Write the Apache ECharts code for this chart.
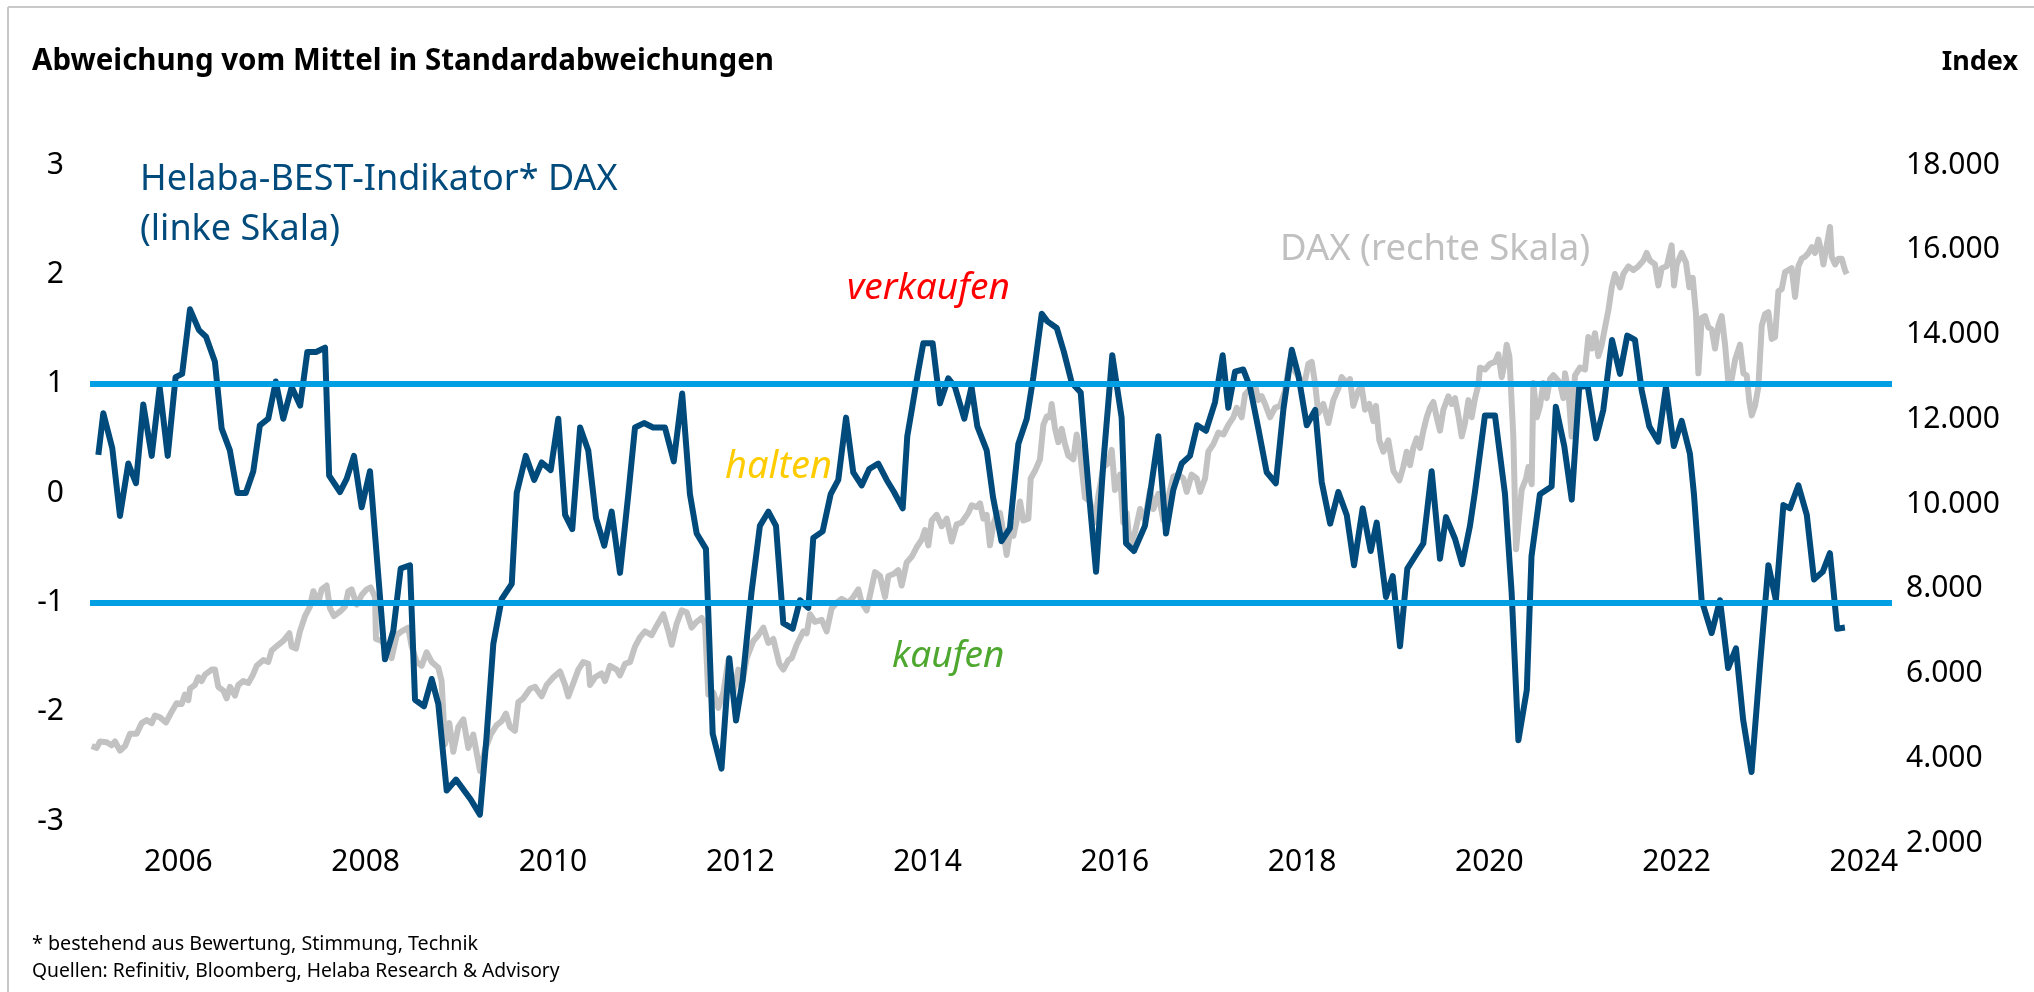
<!DOCTYPE html>
<html>
<head>
<meta charset="utf-8">
<script src="https://cdn.jsdelivr.net/npm/echarts@6/dist/echarts.min.js"></script>
<style>
html,body{margin:0;padding:0;background:#fff;}
#c{width:2034px;height:992px;}
</style>
</head>
<body>
<div id="c"></div>
<script>
// ---------- DATA ----------
const yearTicks = [2006, 2008, 2010, 2012, 2014, 2016, 2018, 2020, 2022, 2024];
const leftTicks = [-3, -2, -1, 0, 1, 2, 3];
const thresholds = [1, -1];

const bestYears = [2005.145,2005.198,2005.294,2005.376,2005.465,2005.547,2005.625,2005.715,2005.80,2005.886,2005.97,2006.04,2006.124,2006.22,2006.295,2006.39,2006.462,2006.55,2006.63,2006.72,2006.80,2006.87,2006.96,2007.04,2007.12,2007.21,2007.30,2007.377,2007.47,2007.566,2007.61,2007.726,2007.797,2007.875,2007.957,2008.046,2008.206,2008.295,2008.374,2008.473,2008.527,2008.623,2008.705,2008.776,2008.865,2008.965,2009.12,2009.22,2009.29,2009.363,2009.452,2009.56,2009.613,2009.71,2009.80,2009.88,2009.976,2010.057,2010.13,2010.206,2010.29,2010.377,2010.46,2010.548,2010.627,2010.716,2010.805,2010.876,2010.972,2011.07,2011.196,2011.29,2011.38,2011.463,2011.535,2011.634,2011.706,2011.80,2011.883,2011.955,2012.026,2012.12,2012.21,2012.30,2012.382,2012.46,2012.56,2012.638,2012.727,2012.78,2012.88,2012.966,2013.047,2013.13,2013.207,2013.297,2013.378,2013.474,2013.564,2013.642,2013.735,2013.784,2013.83,2013.90,2013.955,2014.055,2014.133,2014.222,2014.293,2014.393,2014.47,2014.532,2014.632,2014.70,2014.79,2014.88,2014.97,2015.06,2015.13,2015.22,2015.28,2015.38,2015.457,2015.54,2015.636,2015.68,2015.735,2015.80,2015.877,2015.973,2016.073,2016.12,2016.205,2016.322,2016.383,2016.465,2016.547,2016.625,2016.714,2016.803,2016.88,2016.974,2017.07,2017.152,2017.212,2017.284,2017.372,2017.444,2017.533,2017.622,2017.72,2017.80,2017.89,2017.96,2018.05,2018.14,2018.21,2018.30,2018.387,2018.477,2018.555,2018.647,2018.733,2018.797,2018.896,2018.968,2019.046,2019.124,2019.206,2019.295,2019.384,2019.473,2019.537,2019.634,2019.71,2019.793,2019.846,2019.953,2020.06,2020.167,2020.238,2020.31,2020.40,2020.45,2020.54,2020.665,2020.71,2020.80,2020.88,2020.96,2021.05,2021.14,2021.217,2021.31,2021.395,2021.473,2021.555,2021.627,2021.708,2021.804,2021.886,2021.97,2022.054,2022.142,2022.185,2022.267,2022.374,2022.463,2022.55,2022.634,2022.71,2022.80,2022.89,2022.98,2023.06,2023.14,2023.21,2023.30,2023.39,2023.467,2023.56,2023.637,2023.715,2023.797];
const bestValues = [0.35,0.73,0.41,-0.21,0.27,0.09,0.81,0.34,0.97,0.34,1.06,1.09,1.68,1.49,1.43,1.20,0.59,0.39,0.0,0.0,0.20,0.62,0.68,1.02,0.68,0.97,0.80,1.29,1.29,1.33,0.16,0.01,0.13,0.34,-0.13,0.20,-1.52,-1.26,-0.69,-0.66,-1.89,-1.95,-1.70,-1.93,-2.72,-2.62,-2.80,-2.94,-2.24,-1.38,-0.97,-0.83,0.0,0.34,0.12,0.28,0.21,0.68,-0.20,-0.33,0.60,0.39,-0.23,-0.48,-0.17,-0.73,-0.01,0.60,0.64,0.60,0.60,0.29,0.91,-0.01,-0.37,-0.51,-2.20,-2.52,-1.51,-2.08,-1.71,-0.91,-0.30,-0.17,-0.30,-1.19,-1.24,-0.98,-1.05,-0.41,-0.35,-0.01,0.12,0.69,0.19,0.07,0.22,0.27,0.12,0.01,-0.14,0.52,0.75,1.11,1.37,1.37,0.82,1.05,0.97,0.68,0.97,0.61,0.39,-0.04,-0.44,-0.32,0.45,0.68,1.06,1.64,1.57,1.51,1.29,1.01,0.92,0.45,-0.11,-0.72,0.27,1.26,0.69,-0.46,-0.53,-0.30,0.03,0.52,-0.37,0.03,0.27,0.34,0.62,0.57,0.83,1.26,0.78,1.11,1.13,0.97,0.59,0.19,0.09,0.76,1.31,1.08,0.62,0.76,0.10,-0.28,0.01,-0.20,-0.66,-0.14,-0.53,-0.27,-0.95,-0.76,-1.40,-0.69,-0.58,-0.46,0.20,-0.60,-0.22,-0.42,-0.65,-0.30,0.01,0.71,0.71,-0.01,-0.91,-2.26,-1.80,-0.58,-0.01,0.06,0.79,0.43,-0.06,0.97,0.98,0.50,0.76,1.40,1.09,1.44,1.40,0.94,0.61,0.47,0.97,0.43,0.66,0.36,-0.01,-0.98,-1.28,-0.98,-1.60,-1.42,-2.07,-2.55,-1.58,-0.66,-0.98,-0.11,-0.14,0.07,-0.20,-0.79,-0.72,-0.55,-1.24,-1.23];

const daxYears = [2005.074,2005.127,2005.163,2005.234,2005.287,2005.323,2005.376,2005.43,2005.483,2005.554,2005.608,2005.661,2005.715,2005.75,2005.803,2005.868,2005.928,2005.981,2006.035,2006.07,2006.106,2006.124,2006.177,2006.213,2006.248,2006.284,2006.355,2006.391,2006.426,2006.48,2006.515,2006.551,2006.604,2006.64,2006.693,2006.747,2006.793,2006.836,2006.907,2006.96,2006.996,2007.067,2007.12,2007.185,2007.21,2007.256,2007.298,2007.352,2007.405,2007.441,2007.494,2007.53,2007.583,2007.619,2007.661,2007.726,2007.779,2007.815,2007.85,2007.904,2007.957,2008.01,2008.053,2008.1,2008.11,2008.171,2008.224,2008.277,2008.331,2008.384,2008.455,2008.491,2008.544,2008.598,2008.651,2008.705,2008.776,2008.811,2008.847,2008.893,2008.936,2008.989,2009.043,2009.096,2009.149,2009.221,2009.274,2009.335,2009.399,2009.452,2009.498,2009.541,2009.594,2009.63,2009.683,2009.755,
2009.808,2009.879,2009.933,2010.004,2010.075,2010.129,2010.164,2010.218,2010.271,2010.324,2010.378,2010.396,2010.449,2010.52,2010.556,2010.609,2010.68,2010.716,2010.769,2010.823,2010.876,2010.93,2010.983,2011.054,2011.108,2011.179,2011.232,2011.268,2011.321,2011.375,2011.428,2011.481,2011.535,2011.588,2011.624,2011.659,2011.713,2011.766,2011.82,2011.873,2011.926,2011.98,2012.015,2012.069,2012.14,2012.193,2012.247,2012.3,2012.353,2012.418,2012.46,2012.514,2012.549,2012.603,2012.674,2012.71,2012.745,2012.798,2012.87,2012.923,2012.976,2013.03,2013.083,2013.154,2013.208,2013.261,2013.297,2013.35,2013.404,2013.439,2013.493,2013.546,2013.582,2013.635,2013.688,2013.724,2013.777,2013.831,2013.884,2013.938,2013.973,2014.009,2014.045,2014.098,2014.151,2014.205,2014.258,2014.311,2014.365,2014.436,
2014.472,2014.525,2014.561,2014.596,2014.632,2014.667,2014.703,2014.739,2014.774,2014.81,2014.845,2014.881,2014.917,2014.952,2014.988,2015.023,2015.077,2015.102,2015.148,2015.201,2015.237,2015.273,2015.308,2015.326,2015.362,2015.397,2015.433,2015.468,2015.504,2015.557,2015.593,2015.629,2015.682,2015.735,2015.789,2015.824,2015.878,2015.931,2015.967,2016.002,2016.056,2016.091,2016.127,2016.163,2016.216,2016.27,2016.323,2016.376,2016.412,2016.465,2016.519,2016.572,2016.625,2016.679,2016.732,2016.768,2016.821,2016.875,2016.91,2016.964,2016.999,2017.053,2017.106,2017.16,2017.213,2017.266,2017.302,2017.355,2017.391,2017.444,2017.498,2017.533,2017.569,2017.605,2017.658,2017.711,2017.765,2017.818,2017.871,2017.925,2017.978,2018.031,2018.067,2018.103,2018.138,2018.174,2018.227,2018.281,2018.334,2018.387,2018.423,2018.476,2018.512,2018.547,2018.601,2018.636,2018.672,2018.718,2018.761,2018.789,2018.825,2018.868,2018.921,2018.975,2019.039,2019.081,
2019.117,2019.153,2019.188,2019.224,2019.26,2019.295,2019.331,2019.366,2019.402,2019.438,2019.473,2019.509,2019.562,2019.598,2019.633,2019.669,2019.705,2019.74,2019.776,2019.811,2019.847,2019.883,2019.90,2019.954,2020.007,2020.061,2020.096,2020.132,2020.157,2020.185,2020.214,2020.256,2020.285,2020.31,2020.345,2020.392,2020.417,2020.452,2020.47,2020.506,2020.541,2020.577,2020.612,2020.648,2020.684,2020.719,2020.755,2020.79,2020.808,2020.844,2020.879,2020.897,2020.915,2020.968,2021.022,2021.057,2021.093,2021.128,2021.164,2021.2,2021.235,2021.271,2021.307,2021.342,2021.396,2021.431,2021.485,2021.538,2021.591,2021.645,2021.68,2021.716,2021.769,2021.805,2021.841,2021.894,2021.947,2021.972,2022.001,2022.054,2022.1,2022.136,2022.172,2022.207,2022.232,2022.268,2022.303,2022.339,2022.375,2022.41,2022.446,2022.481,2022.517,2022.553,2022.588,2022.624,2022.677,2022.713,2022.748,2022.777,2022.802,2022.837,2022.873,2022.909,2022.944,2022.98,2023.015,2023.051,2023.087,2023.122,2023.158,2023.193,2023.229,2023.265,2023.3,2023.336,2023.371,2023.407,2023.443,2023.478,2023.514,2023.549,2023.567,2023.603,2023.638,2023.656,2023.692,2023.727,2023.763,2023.798,2023.816];
const daxValues = [4288,4243,4396,4378,4306,4396,4179,4288,4576,4576,4829,4901,4829,5009,4964,4847,5099,5298,5280,5505,5370,5641,5731,5911,5821,5974,6092,6092,5686,5595,5415,5686,5479,5731,5821,5776,5956,6182,6317,6272,6543,6678,6768,6949,6633,6588,6994,7355,7580,7941,7671,7986,8076,7535,7355,7463,7580,7941,7986,7625,7851,7986,8031,7806,6814,6768,6588,6362,6903,6994,7084,6633,6272,6182,6498,6272,6136,5821,4333,4829,4153,4738,4919,4243,4558,3701,4197,4558,4784,4874,5054,4738,4648,5325,5415,5641,
5686,5460,5731,5911,6049,5731,5460,5776,6092,6272,6227,5731,5911,6002,5821,6182,6092,5956,6227,6272,6633,6858,6994,6904,7129,7400,6994,6678,7174,7490,7445,7084,7219,7310,7174,5505,5551,5190,5551,6317,5551,6092,5686,6362,6768,6904,7084,6723,6814,6227,6092,6317,6362,6678,6994,6949,7400,7219,7265,6994,7535,7671,7761,7671,7806,7986,7671,7490,8031,8392,8302,7806,8302,8347,8437,8076,8618,8753,8979,9159,9385,9024,9610,9745,9475,9655,9114,9520,9565,9791,
9971,9926,10016,9655,9745,9024,9520,9745,9790,9339,8798,9339,9249,9610,10061,9610,9655,10602,10783,11053,11865,12064,12046,12361,11775,11459,11775,11414,11143,11053,11640,11234,10151,10061,9565,10196,10873,10963,11279,10332,10693,9565,9790,8979,9339,9881,9610,10332,9881,10242,9610,10151,10647,10693,10602,10287,10693,10602,10287,10602,11234,11414,11685,11640,11865,12046,12271,12046,12587,12722,12812,12452,12542,12361,12046,12271,12316,12677,13399,13128,12948,12903,13309,13354,12858,12136,12361,11910,12452,12722,12993,12858,12948,12316,12677,12767,12226,12361,11955,12316,11504,11234,11504,10783,10557,10873,
11234,10918,11324,11550,11324,11730,12046,12271,12407,12046,11730,12226,12542,12361,12497,12091,11595,11910,12452,12046,12497,12812,13218,13173,13309,13354,13534,12993,13264,13760,13489,11595,8934,9520,10332,10602,10873,10467,12858,12046,12316,12858,12497,12948,13038,12948,12858,12497,13083,12677,11595,12497,13038,13218,13173,13940,13669,14030,13489,13760,14166,14572,15113,15429,15113,15429,15609,15519,15609,15744,15925,15744,15654,15158,15564,15609,16105,15158,15654,15925,15699,15113,15338,14481,13083,14391,14436,14166,14121,13669,14211,14436,13760,12858,12948,13399,13760,13083,13038,12407,12091,12316,12767,14211,14481,14526,13895,13940,15023,15068,15474,15519,15564,14887,15609,15789,15835,15925,16060,15925,16240,15925,15654,16105,16540,15835,15654,15789,15789,15519,15429];

// ---------- CHART ----------
const FONT = '"Noto Sans", "Open Sans", sans-serif';
const zip = (a, b) => a.map((x, i) => [x, b[i]]);
const thousands = v => { const s = String(v); return s.length > 3 ? s.slice(0, -3) + '.' + s.slice(-3) : s; };

const chart = echarts.init(document.getElementById('c'), null, { renderer: 'canvas' });

const txt = (text, x, y, font, fill, align) => ({
  type: 'text', silent: true,
  style: { text, x, y, font, fill, textAlign: align || 'left', textVerticalAlign: 'middle' }
});

chart.setOption({
  animation: false,
  backgroundColor: '#ffffff',
  grid: { left: 90, right: 142, top: 165, bottom: 149, containLabel: false },
  xAxis: {
    type: 'value', min: 2005.056, max: 2024.30,
    axisLine: { show: false }, axisTick: { show: false }, splitLine: { show: false },
    axisLabel: {
      customValues: yearTicks, formatter: v => String(v),
      fontSize: 30, color: '#000', fontFamily: FONT, margin: 4
    }
  },
  yAxis: [
    {
      type: 'value', min: -3.2, max: 3, position: 'left',
      axisLine: { show: false }, axisTick: { show: false }, splitLine: { show: false },
      axisLabel: {
        customValues: leftTicks, formatter: v => String(v),
        fontSize: 30, color: '#000', fontFamily: FONT, margin: 26
      }
    },
    {
      type: 'value', min: 2000, max: 18000, interval: 2000, position: 'right',
      axisLine: { show: false }, axisTick: { show: false }, splitLine: { show: false },
      axisLabel: { formatter: thousands, fontSize: 30, color: '#000', fontFamily: FONT, margin: 14 }
    }
  ],
  series: [
    {
      name: 'DAX', type: 'line', yAxisIndex: 1, z: 1, silent: true,
      data: zip(daxYears, daxValues), showSymbol: false, symbol: 'none',
      lineStyle: { color: '#c2c2c2', width: 6, join: 'round' }
    },
    {
      name: 'Schwellen', type: 'line', yAxisIndex: 0, z: 2, silent: true, data: [],
      markLine: {
        silent: true, symbol: 'none', label: { show: false },
        lineStyle: { color: '#009fe3', width: 6, type: 'solid' },
        data: thresholds.map(t => ({ yAxis: t }))
      }
    },
    {
      name: 'Helaba-BEST-Indikator DAX', type: 'line', yAxisIndex: 0, z: 3, silent: true,
      data: zip(bestYears, bestValues), showSymbol: false, symbol: 'none',
      lineStyle: { color: '#004b7c', width: 6, join: 'round' }
    }
  ],
  graphic: [
    { type: 'line', silent: true, shape: { x1: 8, y1: 7, x2: 2034, y2: 7 }, style: { stroke: '#c8c8c8', lineWidth: 2 } },
    { type: 'line', silent: true, shape: { x1: 8, y1: 7, x2: 8, y2: 992 }, style: { stroke: '#c8c8c8', lineWidth: 2 } },
    txt('Abweichung vom Mittel in Standardabweichungen', 32, 62, 'bold 29.5px ' + FONT, '#000'),
    txt('Index', 2018, 62, 'bold 27px ' + FONT, '#000', 'right'),
    txt('Helaba-BEST-Indikator* DAX', 140, 180, '36px ' + FONT, '#004b7c'),
    txt('(linke Skala)', 140, 230, '36px ' + FONT, '#004b7c'),
    txt('DAX (rechte Skala)', 1280, 250, '36.5px ' + FONT, '#c0c0c0'),
    txt('verkaufen', 847, 288, 'italic 37px ' + FONT, '#ff0000'),
    txt('halten', 725, 467, 'italic 38px ' + FONT, '#ffcc00'),
    txt('kaufen', 892, 656, 'italic 37px ' + FONT, '#4ea72e'),
    txt('* bestehend aus Bewertung, Stimmung, Technik', 32, 944, '19.7px ' + FONT, '#000'),
    txt('Quellen: Refinitiv, Bloomberg, Helaba Research & Advisory', 32, 972, '19.3px ' + FONT, '#000')
  ]
});
</script>
</body>
</html>
